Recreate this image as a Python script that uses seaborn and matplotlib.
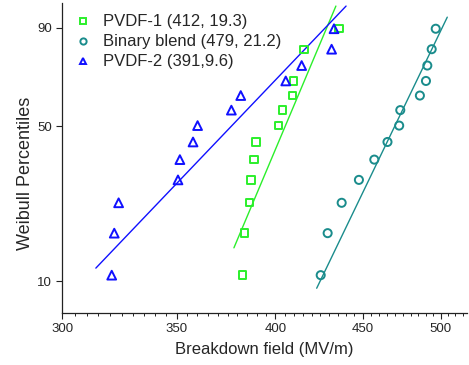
import numpy as np
import pandas as pd
import matplotlib
matplotlib.use("Agg")
import matplotlib.pyplot as plt
from matplotlib.ticker import FixedLocator, NullFormatter
import seaborn as sns

# data (breakdown field in MV/m, Weibull percentile in %)
pvdf1_field = [382.5, 383.5, 386.3, 387.1, 388.6, 389.6, 401.7, 403.7, 409.4, 409.7, 415.7, 435.9]
pvdf1_pct = [10.7, 17.2, 23.9, 30.3, 37.0, 43.6, 50.3, 57.0, 63.5, 70.0, 83.0, 89.7]

blend_field = [425.2, 429.2, 437.4, 447.7, 457.1, 465.3, 472.7, 473.4, 486.1, 490.1, 491.0, 493.9, 496.6]
blend_pct = [10.7, 17.2, 23.9, 30.3, 37.0, 43.6, 50.3, 57.0, 63.5, 70.0, 76.6, 83.0, 89.7]

pvdf2_field = [320.7, 321.8, 323.7, 350.7, 351.6, 357.9, 360.1, 376.9, 381.7, 405.6, 414.4, 431.5, 432.9]
pvdf2_pct = [10.7, 17.2, 23.9, 30.3, 37.0, 43.6, 50.3, 57.0, 63.5, 70.0, 76.6, 83.0, 89.7]

# fitted Weibull lines (end points)
pvdf1_fit_field = [378.2, 434.0]
pvdf1_fit_pct = [14.6, 95.0]
blend_fit_field = [422.9, 504.4]
blend_fit_pct = [9.2, 92.7]
pvdf2_fit_field = [313.9, 440.0]
pvdf2_fit_pct = [11.6, 95.0]

labels = ["PVDF-1 (412, 19.3)", "Binary blend (479, 21.2)", "PVDF-2 (391,9.6)"]
x_ticks = [300, 350, 400, 450, 500]
y_ticks = [10, 50, 90]

sns.set_style("ticks")
plt.rcParams["font.family"] = ["Liberation Sans", "DejaVu Sans"]

green = "#2bef2b"
teal = "#1a8c8c"
blue = "#1010ff"


def weib(p):
    p = np.clip(np.asarray(p, dtype=float), 1e-6, 100 - 1e-6)
    return np.log(-np.log(1 - p / 100.0))


def weib_inv(w):
    return 100.0 * (1 - np.exp(-np.exp(np.asarray(w, dtype=float))))


fig = plt.figure(figsize=(4.69, 3.65), dpi=100)
ax = fig.add_axes([0.1328, 0.1438, 0.8629, 0.848])
ax.set_xscale("log")
ax.set_yscale("function", functions=(weib, weib_inv))

series = [
    (pvdf1_field, pvdf1_pct, pvdf1_fit_field, pvdf1_fit_pct, green, "s", 28),
    (blend_field, blend_pct, blend_fit_field, blend_fit_pct, teal, "o", 34),
    (pvdf2_field, pvdf2_pct, pvdf2_fit_field, pvdf2_fit_pct, blue, "^", 40),
]

handles = []
for (fx, fy, lx, ly, col, mk, sz), lab in zip(series, labels):
    sns.lineplot(x=lx, y=ly, color=col, lw=1.0, sort=False, estimator=None,
                 legend=False, ax=ax)
    sns.scatterplot(x=fx, y=fy, marker=mk, s=sz, color=col,
                    facecolor="none", edgecolor=col, linewidth=1.4,
                    legend=False, ax=ax, zorder=3)
    h = plt.Line2D([], [], ls="none", marker=mk, markersize=4.5,
                   markerfacecolor="none", markeredgecolor=col, markeredgewidth=1.4)
    handles.append(h)

ax.set_xlim(300, 518)
ax.set_ylim(6.93, 95.54)

ax.xaxis.set_major_locator(FixedLocator(x_ticks))
ax.xaxis.set_minor_locator(FixedLocator(np.arange(300, 520, 5)))
ax.xaxis.set_minor_formatter(NullFormatter())
ax.set_xticklabels([str(t) for t in x_ticks])
ax.yaxis.set_major_locator(FixedLocator(y_ticks))
ax.yaxis.set_minor_locator(FixedLocator([]))
ax.set_yticklabels([str(t) for t in y_ticks])

ax.tick_params(axis="both", which="major", length=4, width=0.8, labelsize=9.5, color="#222222")
ax.tick_params(axis="x", which="minor", length=2.2, width=0.7, color="#222222")

for s in ["top", "right"]:
    ax.spines[s].set_visible(False)
for s in ["left", "bottom"]:
    ax.spines[s].set_linewidth(0.9)
    ax.spines[s].set_color("#222222")

ax.set_xlabel("Breakdown field (MV/m)", fontsize=12, labelpad=5)
ax.set_ylabel("Weibull Percentiles", fontsize=13)
ax.yaxis.set_label_coords(-0.07, 0.45)

ax.legend(handles, labels, loc="upper left", frameon=False, fontsize=12,
          handlelength=1.0, handletextpad=0.7, labelspacing=0.3,
          borderaxespad=0.1, bbox_to_anchor=(0.01, 0.99))

fig.savefig("out.png", dpi=100)
